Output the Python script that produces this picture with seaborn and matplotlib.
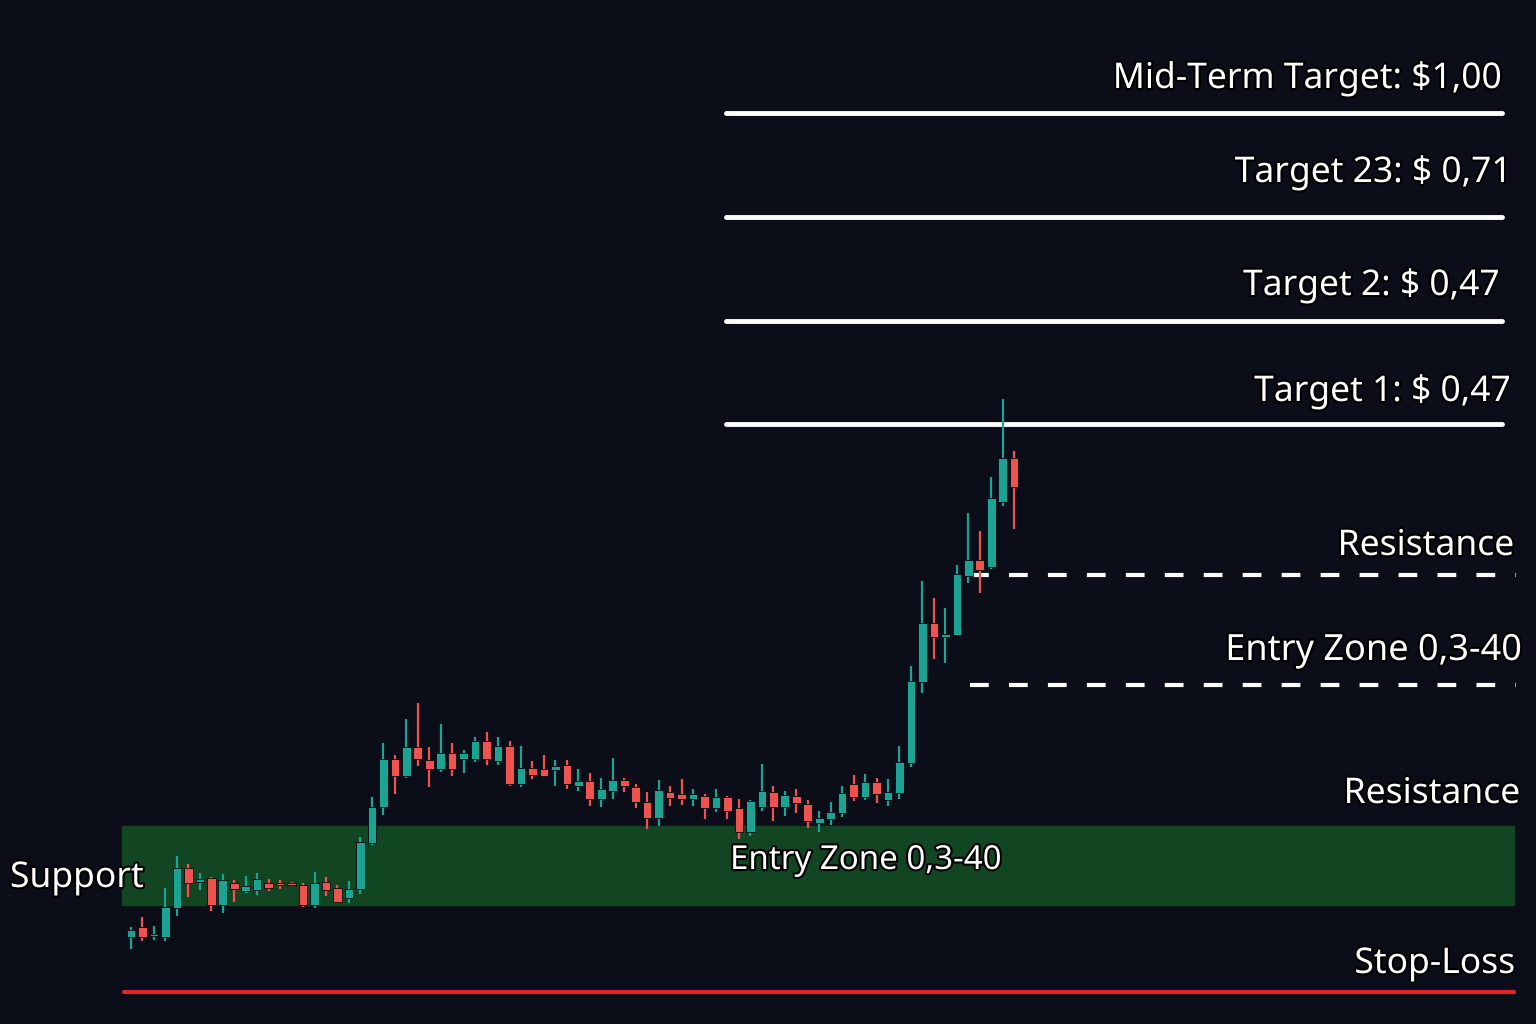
import numpy as np
import pandas as pd
import matplotlib
matplotlib.use("Agg")
import matplotlib.pyplot as plt
import matplotlib.patheffects as pe
import seaborn as sns

# Candle data (price in thousandths of a dollar)
opens = [87, 97, 88, 87, 116, 156, 142, 146, 119, 141, 133, 134, 141, 141, 141, 139, 119, 142, 136, 126,
         135, 181, 217, 265, 248, 277, 264, 255, 271, 265, 265, 283, 263, 278, 240, 256, 255, 254, 259, 238,
         243, 225, 233, 244, 237, 222, 206, 232, 230, 225, 228, 216, 227, 216, 192, 217, 232, 217, 228, 220,
         201, 205, 211, 240, 227, 242, 224, 231, 261, 342, 401, 387, 389, 448, 464, 457, 522, 566]
highs = [97, 107, 98, 136, 168, 160, 151, 147, 150, 144, 148, 151, 145, 144, 142, 141, 152, 147, 139, 143,
         187, 227, 281, 269, 305, 321, 277, 300, 281, 274, 287, 292, 287, 283, 278, 263, 269, 264, 264, 255,
         251, 246, 266, 246, 240, 232, 244, 238, 245, 235, 230, 235, 228, 225, 224, 260, 238, 233, 235, 224,
         213, 222, 238, 249, 250, 246, 245, 278, 358, 443, 426, 416, 459, 511, 493, 547, 625, 573]
lows = [75, 83, 84, 83, 108, 127, 134, 113, 111, 122, 131, 129, 133, 135, 138, 117, 116, 128, 121, 121,
        130, 179, 209, 230, 246, 258, 237, 252, 248, 251, 262, 259, 259, 238, 237, 245, 247, 238, 235, 233,
        218, 217, 225, 232, 216, 195, 198, 218, 219, 218, 205, 212, 205, 185, 188, 213, 203, 208, 211, 196,
        192, 199, 207, 223, 224, 221, 218, 225, 257, 331, 365, 361, 388, 441, 431, 455, 518, 495]
closes = [94, 87, 90, 117, 156, 141, 145, 119, 144, 135, 138, 145, 136, 139, 139, 119, 141, 134, 122, 135,
          182, 217, 265, 248, 277, 265, 255, 271, 255, 271, 283, 265, 278, 240, 256, 249, 248, 258, 240, 243,
          225, 235, 244, 238, 222, 206, 234, 226, 225, 230, 216, 227, 213, 192, 223, 233, 217, 229, 221, 203,
          206, 212, 231, 227, 242, 230, 232, 262, 343, 401, 387, 390, 450, 464, 454, 526, 566, 537]

# Horizontal levels
target_levels = [911, 807, 703, 600]
target_labels = ["Mid-Term Target: $1,00", "Target 23: $ 0,71", "Target 2: $ 0,47", "Target 1: $ 0,47"]
dashed_levels = [449, 339]
entry_band = (119, 198)
stop_loss = 32

BG = "#0b0d18"
UP = "#1ba393"
DOWN = "#ef5350"

df = pd.DataFrame({"open": opens, "high": highs, "low": lows, "close": closes})
df["idx"] = np.arange(len(df))
df["up"] = df["close"] >= df["open"]

sns.set_theme(style="dark", rc={"axes.facecolor": BG, "figure.facecolor": BG})
plt.rcParams["font.family"] = ["Noto Sans", "DejaVu Sans"]

fig = plt.figure(figsize=(15.36, 10.24), dpi=100)
ax = fig.add_axes([0, 0, 1, 1])
ax.set_facecolor(BG)

step = 11.47
ax.set_xlim(-131 / step, (1536 - 131) / step)
ax.set_ylim(0, 1024)
ax.axis("off")

# entry zone band
ax.axhspan(entry_band[0], entry_band[1], xmin=0.0794, xmax=0.9857, color="#124622", zorder=1)

# candles
colors = np.where(df["up"], UP, DOWN)
ax.vlines(df["idx"], df["low"], df["high"], colors=colors, linewidth=1.6, zorder=3)
bottoms = np.minimum(df["open"], df["close"])
heights = np.maximum(np.abs(df["close"] - df["open"]), 2)
ax.bar(df["idx"], heights, bottom=bottoms, width=0.75, color=colors,
       edgecolor="#08090f", linewidth=0.6, zorder=4)

# target lines
for lvl in target_levels:
    ax.axhline(lvl, xmin=0.4727, xmax=0.9779, color="white", linewidth=3.5, zorder=2)

# dashed lines
for lvl in dashed_levels:
    ax.axhline(lvl, xmin=0.6315, xmax=0.9870, color="white", linewidth=3,
               linestyle=(0, (4.5, 4.85)), zorder=2)

# stop loss
ax.axhline(stop_loss, xmin=0.0807, xmax=0.9857, color="#e3252b", linewidth=3, zorder=2)

outline = [pe.withStroke(linewidth=3, foreground="#000000")]
tr = ax.get_yaxis_transform()

def label(xfrac, y, s, ha="right", size=25.5):
    ax.text(xfrac, y, s, transform=tr, ha=ha, va="baseline", color="white",
            fontsize=size, path_effects=outline, zorder=6)

label(1502 / 1536, 936, target_labels[0])
label(1512 / 1536, 842, target_labels[1])
label(1500 / 1536, 729, target_labels[2])
label(1511 / 1536, 623, target_labels[3])
label(1514 / 1536, 469, "Resistance")
label(1522 / 1536, 364, "Entry Zone 0,3-40", size=26)
label(1520 / 1536, 221, "Resistance")
label(1515 / 1536, 51, "Stop-Loss")
label(10 / 1536, 137, "Support", ha="left")
label(730 / 1536, 155, "Entry Zone 0,3-40", ha="left", size=23.8)

fig.savefig("out.png", dpi=100, facecolor=BG)
